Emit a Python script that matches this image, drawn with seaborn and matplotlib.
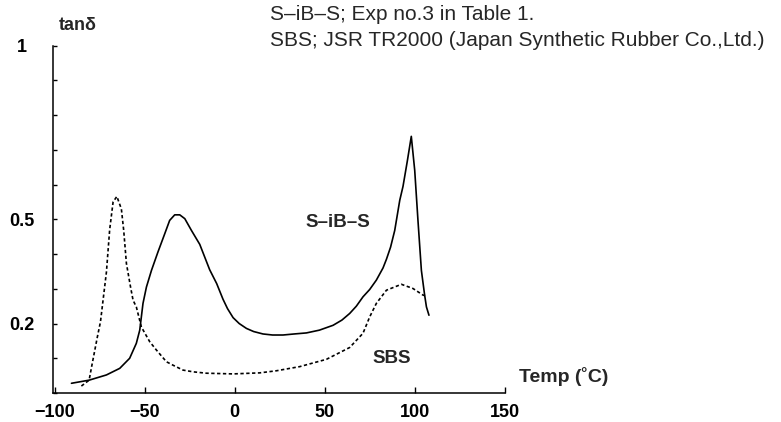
import numpy as np
import pandas as pd
import matplotlib
matplotlib.use("Agg")
import matplotlib.pyplot as plt
import seaborn as sns

# ---- data ----
temp_sibs = [-90.6, -80.8, -71.2, -63.8, -58.3, -54.6, -52.7, -50.9, -49.0, -46.2,
             -42.6, -38.8, -36.1, -33.3, -30.5, -27.7, -24.0, -19.4, -13.9, -10.0,
             -6.5, -4.0, -0.9, 2.5, 6.5, 10.5, 15.7, 21.0, 26.8, 33.0,
             39.8, 47.0, 54.6, 59.5, 63.8, 67.5, 71.2, 74.9, 78.6, 82.3,
             84.2, 86.5, 88.8, 91.6, 93.4, 95.8, 98.0, 99.9, 101.7, 103.6,
             105.4, 106.4, 107.8]
tan_sibs = [0.028, 0.037, 0.052, 0.071, 0.100, 0.143, 0.181, 0.258, 0.305, 0.353,
            0.406, 0.459, 0.497, 0.513, 0.513, 0.502, 0.468, 0.428, 0.355, 0.315,
            0.270, 0.243, 0.217, 0.200, 0.186, 0.177, 0.170, 0.167, 0.167, 0.170,
            0.173, 0.181, 0.195, 0.210, 0.229, 0.250, 0.277, 0.298, 0.325, 0.360,
            0.385, 0.420, 0.468, 0.555, 0.595, 0.668, 0.739, 0.641, 0.497, 0.353,
            0.282, 0.248, 0.224]

temp_sbs = [-85.1, -80.8, -79.4, -76.2, -74.5, -71.2, -69.4, -67.5, -65.4, -62.9,
            -61.6, -60.1, -57.8, -56.4, -54.6, -51.8, -47.2, -43.5, -37.9, -34.2,
            -28.7, -23.1, -15.7, -0.9, 13.9, 23.1, 36.1, 50.9, 63.8, 71.2,
            74.9, 78.6, 84.2, 92.5, 98.9, 104.5, 106.4]
tan_sbs = [0.020, 0.037, 0.076, 0.162, 0.205, 0.348, 0.470, 0.550, 0.566, 0.530,
           0.468, 0.373, 0.305, 0.267, 0.248, 0.190, 0.148, 0.124, 0.090, 0.080,
           0.066, 0.061, 0.057, 0.055, 0.058, 0.064, 0.076, 0.097, 0.131, 0.172,
           0.219, 0.258, 0.296, 0.313, 0.301, 0.282, 0.279]

x_ticks = [-100, -50, 0, 50, 100, 150]
y_tick_labels = {0.2: "0.2", 0.5: "0.5", 1.0: "1"}

df = pd.concat([
    pd.DataFrame({"Temp": temp_sibs, "tan": tan_sibs, "sample": "S-iB-S"}),
    pd.DataFrame({"Temp": temp_sbs, "tan": tan_sbs, "sample": "SBS"}),
], ignore_index=True)

sns.set_style("ticks")
plt.rcParams["font.family"] = ["Liberation Sans", "DejaVu Sans"]

fig = plt.figure(figsize=(7.81, 4.22), dpi=100)
ax = fig.add_axes([0.0675, 0.0687, 0.5791, 0.8230])

sns.lineplot(data=df, x="Temp", y="tan", hue="sample", style="sample",
             palette={"S-iB-S": "black", "SBS": "black"},
             dashes={"S-iB-S": "", "SBS": (2, 1.5)},
             sort=False, estimator=None, linewidth=1.2, legend=False, ax=ax)
for ln in ax.get_lines():
    ln.set_solid_joinstyle("round")
    ln.set_dash_joinstyle("round")

ax.set_xlim(-101, 150)
ax.set_ylim(0, 1.0)
sns.despine(ax=ax)
for s in ("left", "bottom"):
    ax.spines[s].set_linewidth(1.1)
    ax.spines[s].set_color("black")

ax.set_xticks(x_ticks)
ax.set_xticklabels([str(v).replace("-", "\u2212") for v in x_ticks],
                   fontsize=13, fontweight="bold")
yt = np.round(np.arange(0, 1.01, 0.1), 1)
ax.set_yticks(yt)
ax.set_yticklabels([y_tick_labels.get(float(v), "") for v in yt],
                   fontsize=13, fontweight="bold")
for lab in ax.get_yticklabels():
    lab.set_horizontalalignment("center")
ax.tick_params(axis="x", direction="in", length=4, width=1, pad=8, colors="black")
ax.tick_params(axis="y", direction="in", length=3, width=1, pad=22, colors="black")
ax.set_xlabel("")
ax.set_ylabel("")

fig.text(78 / 781, 1 - 25 / 422, "tan\u03b4", fontsize=13, fontweight="bold",
         ha="center", va="center")
fig.text(270 / 781, 1 - 15 / 422, "S\u2013iB\u2013S; Exp no.3 in Table 1.",
         fontsize=15, ha="left", va="center")
fig.text(270 / 781, 1 - 40 / 422,
         "SBS; JSR TR2000 (Japan Synthetic Rubber Co.,Ltd.)",
         fontsize=15, ha="left", va="center")
ax.text(57.5, 0.49, "S\u2013iB\u2013S", fontsize=13.5, fontweight="bold",
        ha="center", va="center")
ax.text(87, 0.10, "SBS", fontsize=13.5, fontweight="bold", ha="center",
        va="center")
fig.text(564 / 781, 1 - 377 / 422, "Temp (\u02daC)", fontsize=14,
         fontweight="bold", ha="center", va="center")

fig.savefig("out.png", dpi=100, facecolor="white")
